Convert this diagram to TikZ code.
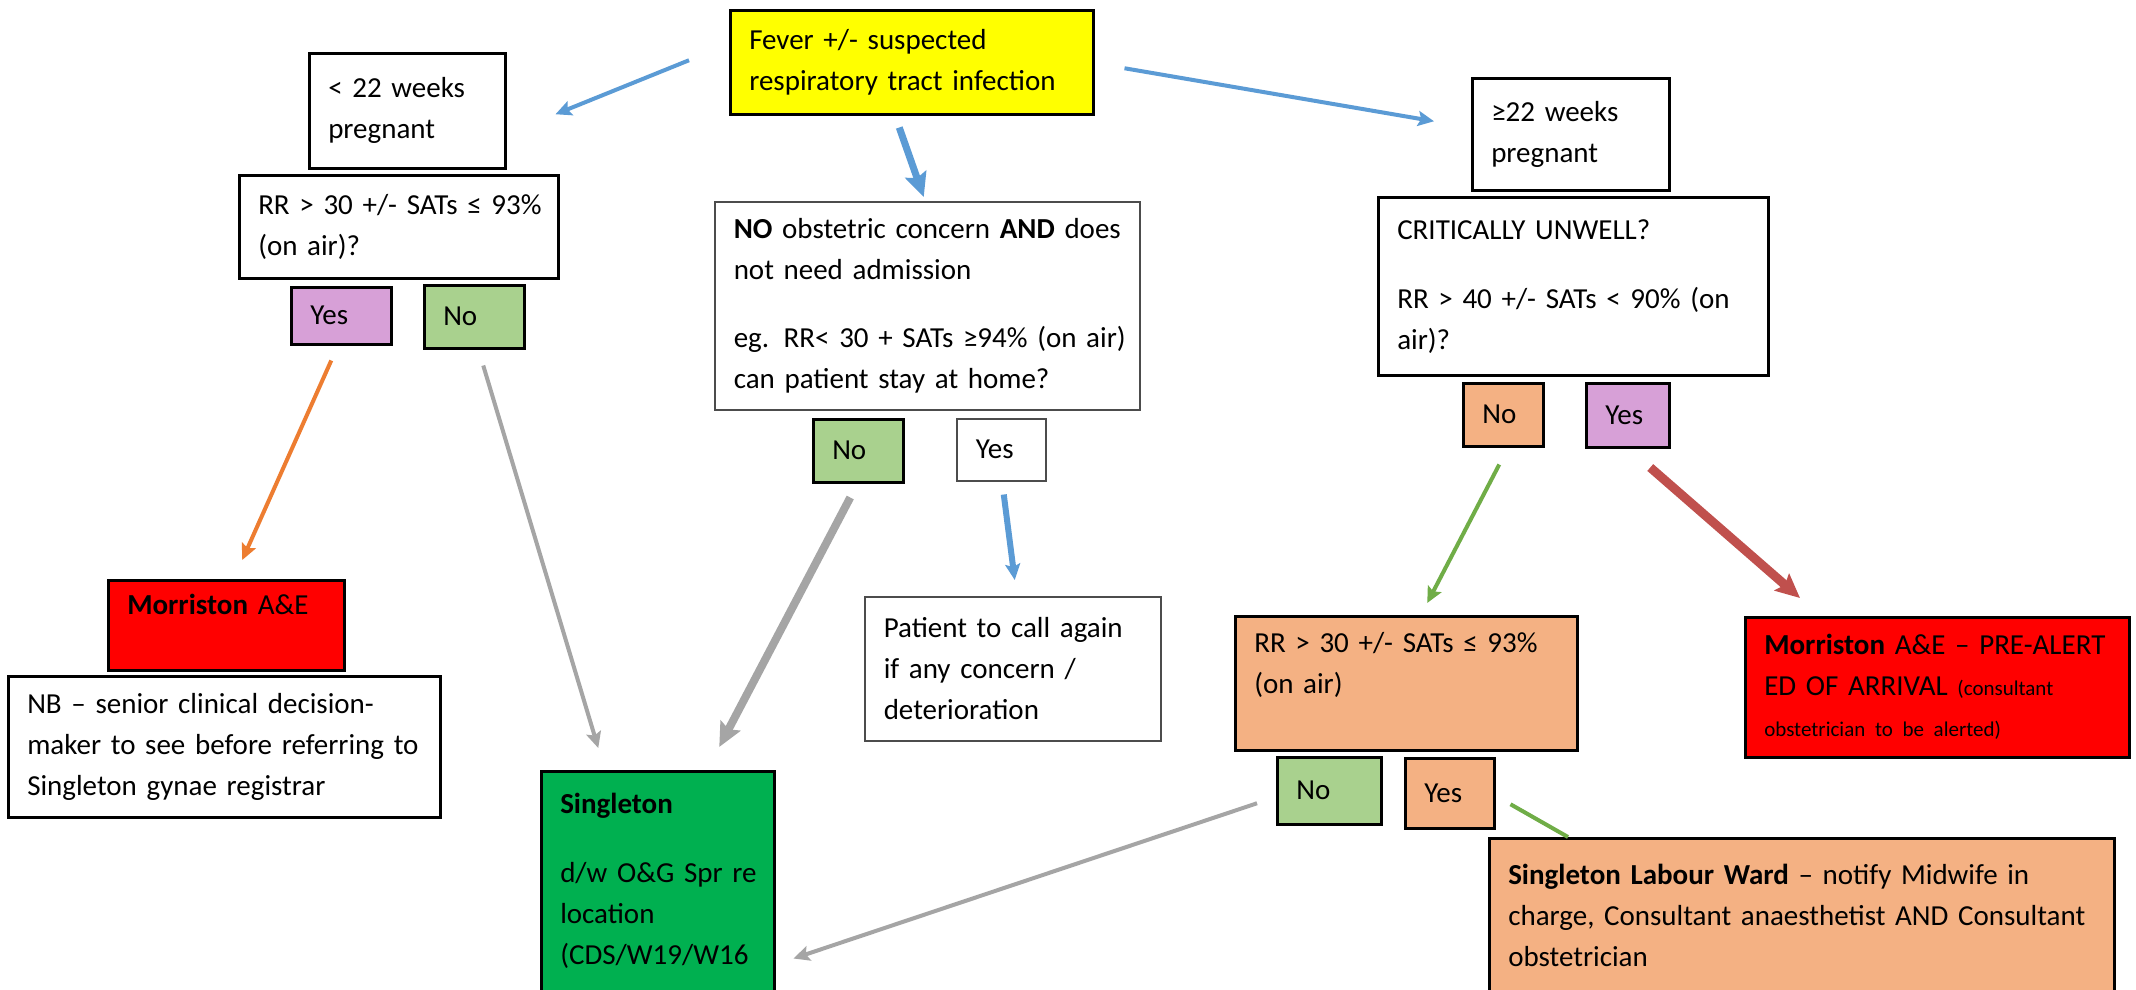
\documentclass[tikz,border=0pt]{standalone}
\usepackage{fontspec}
\setmainfont{Carlito}
\usetikzlibrary{arrows.meta,calc}

\definecolor{boxyellow}{RGB}{255,255,0}
\definecolor{boxpurple}{RGB}{215,160,215}
\definecolor{boxgreen}{RGB}{169,209,142}
\definecolor{boxorange}{RGB}{244,177,131}
\definecolor{boxred}{RGB}{255,0,0}
\definecolor{boxsingleton}{RGB}{0,176,80}
\definecolor{arrblue}{RGB}{91,155,213}
\definecolor{arrorange}{RGB}{237,125,49}
\definecolor{arrgray}{RGB}{165,165,165}
\definecolor{arrgreen}{RGB}{112,173,71}
\definecolor{arrred}{RGB}{192,80,77}

\newcommand{\notetext}[1]{{\fontsize{21}{30}\selectfont #1}}

\begin{document}
\begin{tikzpicture}[
    x=1pt, y=-1pt,
    box/.style={draw, line width=2.5pt, anchor=north west, align=left, inner xsep=19pt, inner ysep=9pt,
        font=\fontsize{29}{41}\selectfont,
        execute at begin node={\rightskip=0pt plus 1fil minus 40pt\hyphenpenalty=10000}},
    thinbox/.style={box, draw=black!70, line width=1.5pt},
    arrow/.style={-{Stealth[length=16pt, width=15pt, inset=3pt]}, line width=4pt},
    bigarrow/.style={-{Stealth[length=24pt, width=22pt, inset=4pt]}, line width=7pt}
]
\fill[white] (0,0) rectangle (2136,989);
\useasboundingbox (0,0) rectangle (2136,989);

% top and left branch
\node[box, fill=boxyellow, text width=325pt, minimum height=104pt] (fever) at (729,9) {Fever +/- suspected\\respiratory tract infection};
\node[box, text width=158pt, minimum height=115pt] (lt22) at (308,52) {< 22 weeks\\pregnant};
\node[box, text width=281pt, minimum height=103pt] (rrlow) at (238,174) {RR > 30 +/- SATs ≤ 93\%\\(on air)?};
\node[box, fill=boxpurple, text width=62pt, minimum height=57pt] (lowyes) at (290,286) {Yes};
\node[box, fill=boxgreen, text width=62pt, minimum height=63pt] (lowno) at (423,284) {No};
\node[box, fill=boxred, text width=198pt, minimum height=90pt] (morrlow) at (107,579) {\textbf{Morriston} A\&E\\\mbox{}};
\node[box, text width=394pt, minimum height=141pt] (nb) at (7,675) {NB – senior clinical decision-\\maker to see before referring to\\Singleton gynae registrar};

% middle branch
\node[thinbox, text width=387pt, minimum height=208pt] (noconc) at (714,201) {\textbf{NO} obstetric concern \textbf{AND} does\\not need admission\\[27pt]eg. RR< 30 + SATs ≥94\% (on air)\\can patient stay at home?};
\node[box, fill=boxgreen, text width=52pt, minimum height=63pt] (midno) at (812,418) {No};
\node[thinbox, text width=51pt, minimum height=62pt] (midyes) at (956,418) {Yes};
\node[thinbox, text width=258pt, minimum height=144pt] (patient) at (864,596) {Patient to call again\\if any concern /\\deterioration};
\node[box, fill=boxsingleton, text width=195pt, minimum height=220pt] (singleton) at (540,770) {\textbf{Singleton}\\[28pt]d/w O\&G Spr re\\location\\(CDS/W19/W16};

% right branch
\node[box, text width=159pt, minimum height=112pt] (ge22) at (1471,77) {≥22 weeks\\pregnant};
\node[box, text width=352pt, minimum height=178pt] (crit) at (1377,196) {CRITICALLY UNWELL?\\[28pt]RR > 40 +/- SATs < 90\% (on\\air)?};
\node[box, fill=boxorange, text width=42pt, minimum height=63pt] (hino) at (1462,382) {No};
\node[box, fill=boxpurple, text width=45pt, minimum height=64pt] (hiyes) at (1585,382) {Yes};
\node[box, fill=boxorange, text width=304pt, minimum height=134pt] (rrhigh) at (1234,615) {RR > 30 +/- SATs ≤ 93\%\\(on air)\\\mbox{}};
\node[box, fill=boxred, text width=346pt, minimum height=140pt] (morrhigh) at (1744,616) {\textbf{Morriston} A\&E – PRE-ALERT\\ED OF ARRIVAL \notetext{(consultant}\\\notetext{obstetrician to be alerted)}};
\node[box, fill=boxgreen, text width=66pt, minimum height=67pt] (rrno) at (1276,756) {No};
\node[box, fill=boxorange, text width=51pt, minimum height=70pt] (rryes) at (1404,757) {Yes};
\node[box, fill=boxorange, text width=587pt, minimum height=155pt] (labour) at (1488,837) {\textbf{Singleton Labour Ward} – notify Midwife in\\charge, Consultant anaesthetist AND Consultant\\obstetrician};

% connectors
\draw[arrow, arrblue] ($(fever.west)+(-40,-2)$) -- ($(lt22.east)+(49,3.5)$);
\draw[bigarrow, arrblue] ($(fever.south)+(-12.5,12)$) -- ($(noconc.north)+(-3.5,-4)$);
\draw[arrow, arrblue] ($(fever.east)+(30,6)$) -- ($(ge22.west)+(-37,-13)$);
\draw[arrow, arrorange] ($(lowyes.south)+(-10,15)$) -- ($(morrlow.north)+(16,-19)$);
\draw[arrow, arrgray] ($(lowno.south)+(9,16)$) -- ($(singleton.north)+(-59.5,-22)$);
\draw[bigarrow, arrgray, line width=8pt] ($(midno.south)+(-8,14)$) -- ($(singleton.north)+(61.5,-23)$);
\draw[arrow, arrblue, line width=6pt] ($(midyes.south)+(2.5,13)$) -- ($(patient.north)+(2,-16)$);
\draw[arrow, arrgreen] ($(hino.south)+(-4,17)$) -- ($(rrhigh.north)+(21,-12)$);
\draw[bigarrow, arrred, line width=9pt] ($(hiyes.south)+(22.5,19)$) -- ($(morrhigh.north west)+(56,-18)$);
\draw[arrow, arrgray] ($(rrno.west)+(-19,12.5)$) -- ($(singleton.south east)+(18,-34)$);
\draw[arrgreen, line width=4pt] ($(rryes.east)+(15,11)$) -- ($(labour.north west)+(80,0)$);
\end{tikzpicture}
\end{document}
